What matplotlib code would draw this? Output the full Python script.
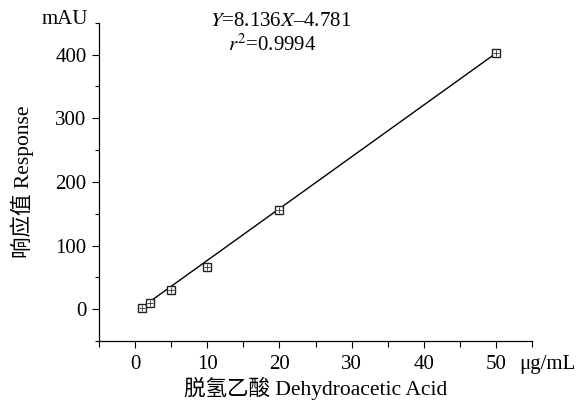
import matplotlib
matplotlib.use("Agg")
import matplotlib.pyplot as plt
import numpy as np

plt.rcParams['font.family'] = ['Liberation Serif', 'Noto Sans CJK SC']
plt.rcParams['mathtext.fontset'] = 'stix'

# Datos de la curva de calibración
concentracion = [1, 2, 5, 10, 20, 50]
respuesta = [2, 10, 30, 67, 156, 402]
pendiente = 8.136
intercepto = -4.781

fig = plt.figure(figsize=(5.81, 4.12), dpi=100)
ax = fig.add_axes([0.1704, 0.1723, 0.7453, 0.7726])

# Recta de regresión
xr = np.array([concentracion[0], concentracion[-1]])
ax.plot(xr, pendiente * xr + intercepto, color='black', lw=1.0, zorder=2)

# Marcadores: cuadrado con cruz
ax.plot(concentracion, respuesta, ls='none', marker='s', ms=6, mfc='white',
        mec='#222222', mew=1.0, zorder=3)
ax.plot(concentracion, respuesta, ls='none', marker='+', ms=4, mec='#444444',
        mew=0.7, zorder=4)

ax.set_xlim(-5, 55)
ax.set_ylim(-50, 450)
ax.set_xticks([0, 10, 20, 30, 40, 50])
ax.set_xticks([-5, 5, 15, 25, 35, 45, 55], minor=True)
ax.set_yticks([0, 100, 200, 300, 400])
ax.set_yticks([-50, 50, 150, 250, 350, 450], minor=True)

for s in ['top', 'right']:
    ax.spines[s].set_visible(False)
for s in ['left', 'bottom']:
    ax.spines[s].set_linewidth(0.9)

ax.tick_params(axis='both', which='major', direction='out', length=5, width=0.8,
               labelsize=15)
ax.tick_params(axis='x', which='major', pad=5)
ax.tick_params(axis='y', which='major', pad=4)
ax.tick_params(axis='y', which='minor', direction='out', length=3, width=0.8)
ax.tick_params(axis='x', which='minor', direction='out', length=4, width=0.8)

ax.set_xlabel('脱氢乙酸 Dehydroacetic Acid', fontsize=15.5)
ax.set_ylabel('响应值 Response', fontsize=15.5)
ax.xaxis.set_label_coords(0.50, -0.113)
ax.yaxis.set_label_coords(-0.150, 0.50)

# Unidades en los extremos de los ejes
fig.text(88 / 581, 1 - 20 / 412, 'mAU', ha='right', va='center', fontsize=15)
fig.text(547 / 581, 1 - 364 / 412, 'μg/mL', ha='center', va='center', fontsize=15)

# Ecuación
fig.text(281 / 581, 1 - 21 / 412, '$Y$=8.136$X$–4.781', ha='center', va='center',
         fontsize=15)
fig.text(272 / 581, 1 - 45 / 412, '$r^{2}$=0.9994', ha='center', va='center',
         fontsize=15)

fig.savefig('out.png', dpi=100)
